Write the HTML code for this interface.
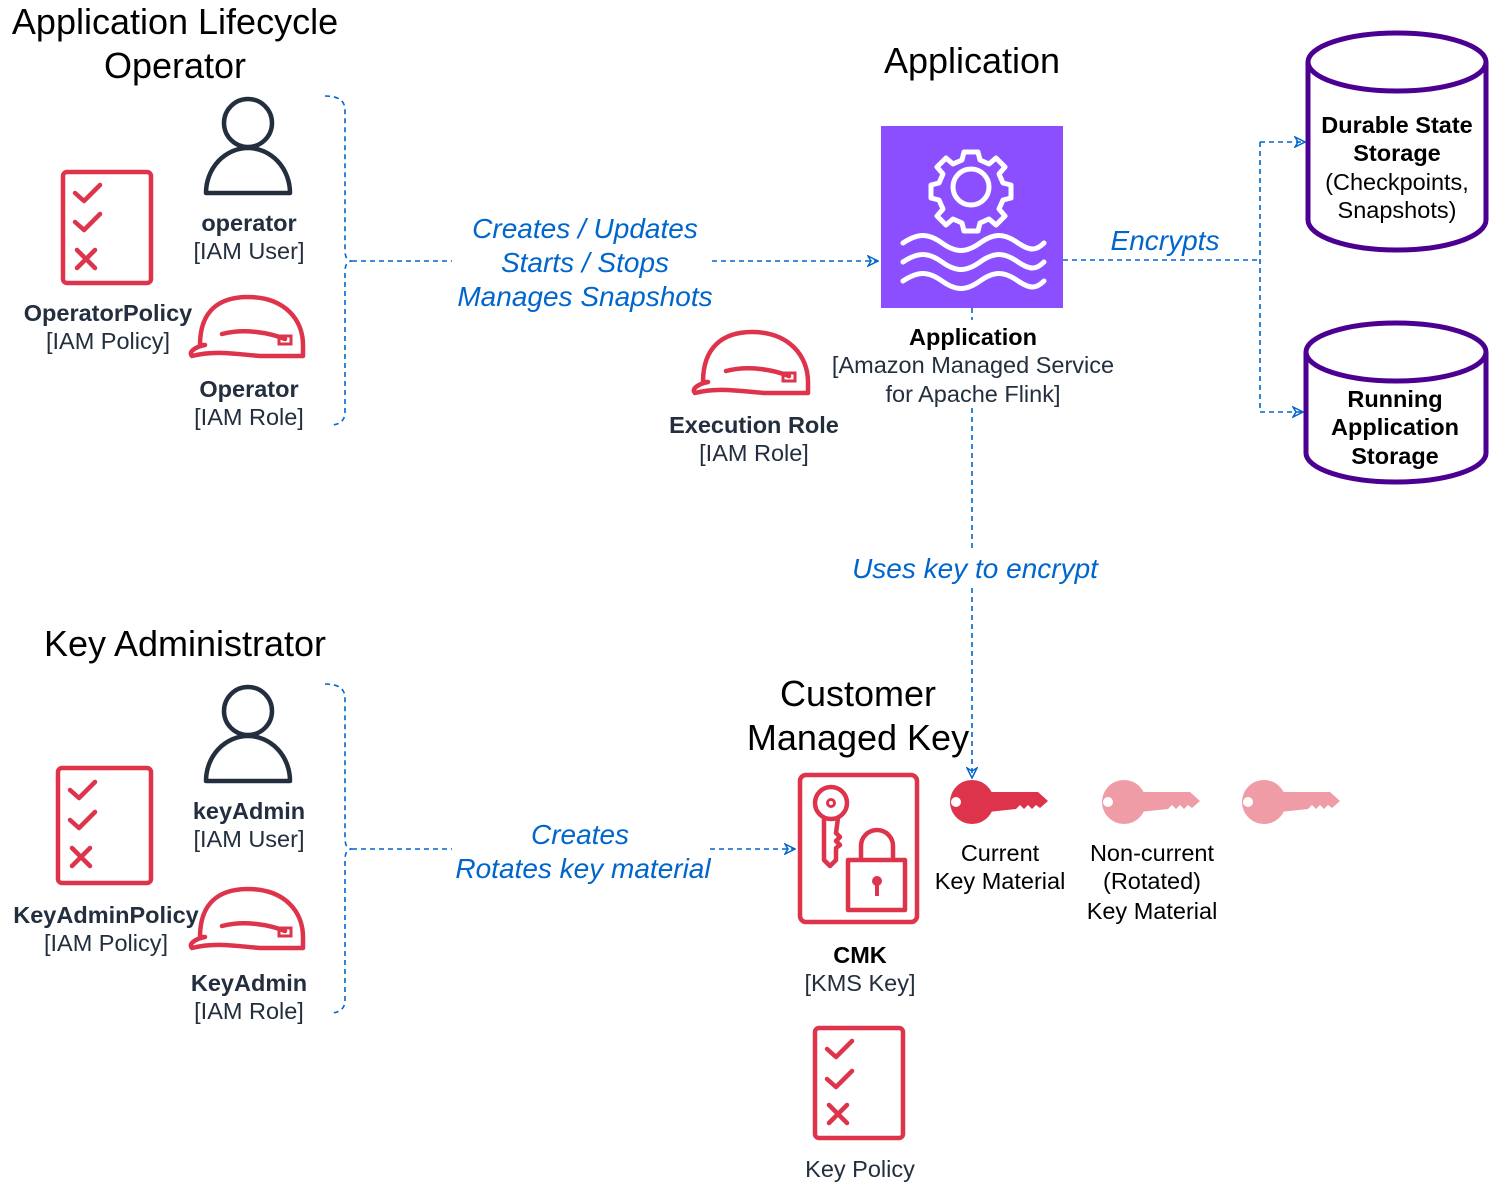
<!DOCTYPE html>
<html><head><meta charset="utf-8"><style>
html,body{margin:0;padding:0;background:#fff;}
svg{display:block;font-family:"Liberation Sans",Arial,sans-serif;}
.t{font-size:36px;fill:#000;text-anchor:middle}
.b{font-size:23.5px;font-weight:bold;fill:#232F3E;text-anchor:middle}
.n{font-size:23.5px;fill:#232F3E;text-anchor:middle}
.k{font-size:23.5px;fill:#000;text-anchor:middle}
.kb{font-size:23.5px;font-weight:bold;fill:#000;text-anchor:middle}
.e{font-size:28px;font-style:italic;fill:#0066CC;text-anchor:middle}
.d{stroke:#0066CC;stroke-width:1.6;stroke-dasharray:5 4;fill:none}
.r{stroke:#DD344C;fill:none;stroke-width:4.5;stroke-linecap:round;stroke-linejoin:round}
</style></head><body>
<svg width="1490" height="1184" viewBox="0 0 1490 1184" xmlns="http://www.w3.org/2000/svg">
<defs>
<marker id="a" viewBox="0 0 12 12" refX="11" refY="6" markerWidth="12" markerHeight="12" markerUnits="userSpaceOnUse" orient="auto">
<path d="M1,1 L11,6 L1,11 L4,6 Z" fill="none" stroke="#0066CC" stroke-width="1.5"/></marker>
</defs>

<text class="t" x="175" y="34">Application Lifecycle</text>
<text class="t" x="175" y="78">Operator</text>
<text class="t" x="972" y="73">Application</text>
<text class="t" x="185" y="656">Key Administrator</text>
<text class="t" x="858" y="706">Customer</text>
<text class="t" x="858" y="750">Managed Key</text>

<rect class="r" x="63" y="172" width="88" height="111" rx="4"/>
<path class="r" d="M75,193 L84,201 L100,185 M75,222 L84,230 L100,214 M77,250 L95,268 M95,250 L77,268"/>
<circle cx="248" cy="123" r="24" fill="none" stroke="#232F3E" stroke-width="4.5"/>
<path d="M206,193 A42,45 0 0 1 290,193 Z" fill="none" stroke="#232F3E" stroke-width="4.5" stroke-linejoin="round"/>
<path class="r" d="M200,345 C200,310 220,297 248,297 C285,297 303,320 303,345 L303,356 L260,356 C235,354 215,350 192,356 C188,352 195,347 205,345 Z M222,334 C245,328 270,333 285,339"/>
<rect x="279" y="336" width="12" height="8" fill="none" stroke="#DD344C" stroke-width="3"/>
<text class="b" x="108" y="321">OperatorPolicy</text>
<text class="n" x="108" y="349">[IAM Policy]</text>
<text class="b" x="249" y="231">operator</text>
<text class="n" x="249" y="259">[IAM User]</text>
<text class="b" x="249" y="397">Operator</text>
<text class="n" x="249" y="425">[IAM Role]</text>
<path class="d" d="M325,96 Q345,96 345,110 L345,250 Q345,261 352,261 Q345,261 345,272 L345,412 Q345,425 330,425"/>
<path class="d" d="M352,261 L452,261"/>
<path class="d" d="M712,261 L878,261" marker-end="url(#a)"/>
<text class="e" x="585" y="238">Creates / Updates</text>
<text class="e" x="585" y="272">Starts / Stops</text>
<text class="e" x="585" y="306">Manages Snapshots</text>

<rect class="r" x="58" y="768" width="93" height="115" rx="4"/>
<path class="r" d="M70,790 L79,798 L95,782 M70,820 L79,828 L95,812 M72,848 L90,866 M90,848 L72,866"/>
<circle cx="248" cy="711" r="24" fill="none" stroke="#232F3E" stroke-width="4.5"/>
<path d="M206,781 A42,45 0 0 1 290,781 Z" fill="none" stroke="#232F3E" stroke-width="4.5" stroke-linejoin="round"/>
<path class="r" d="M200,937 C200,902 220,889 248,889 C285,889 303,912 303,937 L303,948 L260,948 C235,946 215,942 192,948 C188,944 195,939 205,937 Z M222,926 C245,920 270,925 285,931"/>
<rect x="279" y="928" width="12" height="8" fill="none" stroke="#DD344C" stroke-width="3"/>
<text class="b" x="106" y="923">KeyAdminPolicy</text>
<text class="n" x="106" y="951">[IAM Policy]</text>
<text class="b" x="249" y="819">keyAdmin</text>
<text class="n" x="249" y="847">[IAM User]</text>
<text class="b" x="249" y="991">KeyAdmin</text>
<text class="n" x="249" y="1019">[IAM Role]</text>
<path class="d" d="M325,684 Q345,684 345,698 L345,838 Q345,849 352,849 Q345,849 345,860 L345,1000 Q345,1013 330,1013"/>
<path class="d" d="M352,849 L452,849"/>
<path class="d" d="M710,849 L795,849" marker-end="url(#a)"/>
<text class="e" x="580" y="844">Creates</text>
<text class="e" x="583" y="878">Rotates key material</text>

<rect x="881" y="126" width="182" height="182" fill="#8C4FFF"/>
<g fill="none" stroke="#fff" stroke-width="5" stroke-linecap="round" stroke-linejoin="round">
<circle cx="971" cy="187" r="18"/>
<path d="M964,152 L978,152 L980,160 L989,164 L996,158 L1005,167 L999,174 L1003,183 L1011,185 L1011,198 L1003,200 L999,209 L1005,216 L996,225 L989,219 L980,223 L978,231 L964,231 L962,223 L953,219 L946,225 L937,216 L943,209 L939,200 L931,198 L931,185 L939,183 L943,174 L937,167 L946,158 L953,164 L962,160 Z"/>
<path d="M903,243 C918,233 928,233 942,243 C956,253 966,253 980,243 C994,233 1004,233 1018,243 C1030,251 1036,251 1044,243"/>
<path d="M903,262 C918,252 928,252 942,262 C956,272 966,272 980,262 C994,252 1004,252 1018,262 C1030,270 1036,270 1044,262"/>
<path d="M903,281 C918,271 928,271 942,281 C956,291 966,291 980,281 C994,271 1004,271 1018,281 C1030,289 1036,289 1044,281"/>
</g>

<path class="d" d="M972,308 L972,320"/>
<path class="d" d="M972,408 L972,778" marker-end="url(#a)"/>
<text class="kb" x="973" y="345">Application</text>
<text class="n" x="973" y="373">[Amazon Managed Service</text>
<text class="n" x="973" y="402">for Apache Flink]</text>

<path class="r" d="M703,382 C703,347 723,332 752,332 C789,332 808,356 808,382 L808,393 L764,393 C738,391 718,387 695,393 C691,389 698,384 708,382 Z M726,371 C749,365 774,370 789,376"/>
<rect x="783" y="373" width="12" height="8" fill="none" stroke="#DD344C" stroke-width="3"/>
<text class="b" x="754" y="433">Execution Role</text>
<text class="n" x="754" y="461">[IAM Role]</text>

<path class="d" d="M1063,260 L1260,260"/>
<path class="d" d="M1260,142 L1260,412"/>
<path class="d" d="M1260,142 L1305,142" marker-end="url(#a)"/>
<path class="d" d="M1260,412 L1303,412" marker-end="url(#a)"/>
<text class="e" x="1165" y="250">Encrypts</text>

<g fill="#fff" stroke="#4B0091" stroke-width="5">
<path d="M1308,62 L1308,220 A89,30 0 0 0 1486,220 L1486,62"/>
<ellipse cx="1397" cy="62" rx="89" ry="29"/>
<path d="M1306,352 L1306,453 A90,29 0 0 0 1486,453 L1486,352"/>
<ellipse cx="1396" cy="352" rx="90" ry="29"/>
</g>
<text class="kb" x="1397" y="133">Durable State</text>
<text class="kb" x="1397" y="161">Storage</text>
<text class="k" x="1397" y="190">(Checkpoints,</text>
<text class="k" x="1397" y="218">Snapshots)</text>
<text class="kb" x="1395" y="407">Running</text>
<text class="kb" x="1395" y="435">Application</text>
<text class="kb" x="1395" y="464">Storage</text>

<rect x="850" y="552" width="250" height="34" fill="#fff"/>
<text class="e" x="975" y="578">Uses key to encrypt</text>

<rect class="r" x="800" y="775" width="117" height="147" rx="6"/>
<circle class="r" cx="831" cy="803" r="16"/>
<circle cx="831" cy="803" r="3.5" fill="none" stroke="#DD344C" stroke-width="3"/>
<path class="r" d="M824,818 L824,860 L830,866 L836,860 L836,848 L840,845 L836,841 L840,837 L836,833 L838,818"/>
<path class="r" d="M861,858 L861,846 A16,16 0 0 1 893,846 L893,858"/>
<rect class="r" x="848" y="860" width="57" height="50"/>
<circle cx="877" cy="881" r="5" fill="#DD344C"/>
<path d="M877,884 L877,896" stroke="#DD344C" stroke-width="4"/>
<text class="kb" x="860" y="963">CMK</text>
<text class="k" x="860" y="991" style="fill:#232F3E">[KMS Key]</text>

<g fill="#DD344C">
<path fill-rule="evenodd" d="M972,780 A22,22 0 1 1 972,824 A22,22 0 0 1 972,780 Z M951,802 A5,5 0 1 0 961,802 A5,5 0 1 0 951,802 Z"/>
<path d="M985,792 L1038,792 L1048,801 L1040,808 L1036,805 L1032,809 L1028,805 L1024,809 L1020,805 L1016,809 L988,812 Z"/>
</g>
<g fill="#F09CA6">
<path fill-rule="evenodd" d="M1124,780 A22,22 0 1 1 1124,824 A22,22 0 0 1 1124,780 Z M1103,802 A5,5 0 1 0 1113,802 A5,5 0 1 0 1103,802 Z"/>
<path d="M1137,792 L1190,792 L1200,801 L1192,808 L1188,805 L1184,809 L1180,805 L1176,809 L1172,805 L1168,809 L1140,812 Z"/>
<path fill-rule="evenodd" d="M1264,780 A22,22 0 1 1 1264,824 A22,22 0 0 1 1264,780 Z M1243,802 A5,5 0 1 0 1253,802 A5,5 0 1 0 1243,802 Z"/>
<path d="M1277,792 L1330,792 L1340,801 L1332,808 L1328,805 L1324,809 L1320,805 L1316,809 L1312,805 L1308,809 L1280,812 Z"/>
</g>
<text class="k" x="1000" y="861">Current</text>
<text class="k" x="1000" y="889">Key Material</text>
<text class="k" x="1152" y="861">Non-current</text>
<text class="k" x="1152" y="889">(Rotated)</text>
<text class="k" x="1152" y="919">Key Material</text>

<rect class="r" x="815" y="1028" width="88" height="110" rx="4"/>
<path class="r" d="M827,1049 L836,1057 L852,1041 M827,1079 L836,1087 L852,1071 M829,1105 L847,1123 M847,1105 L829,1123"/>
<text class="n" x="860" y="1177">Key Policy</text>
</svg>
</body></html>
